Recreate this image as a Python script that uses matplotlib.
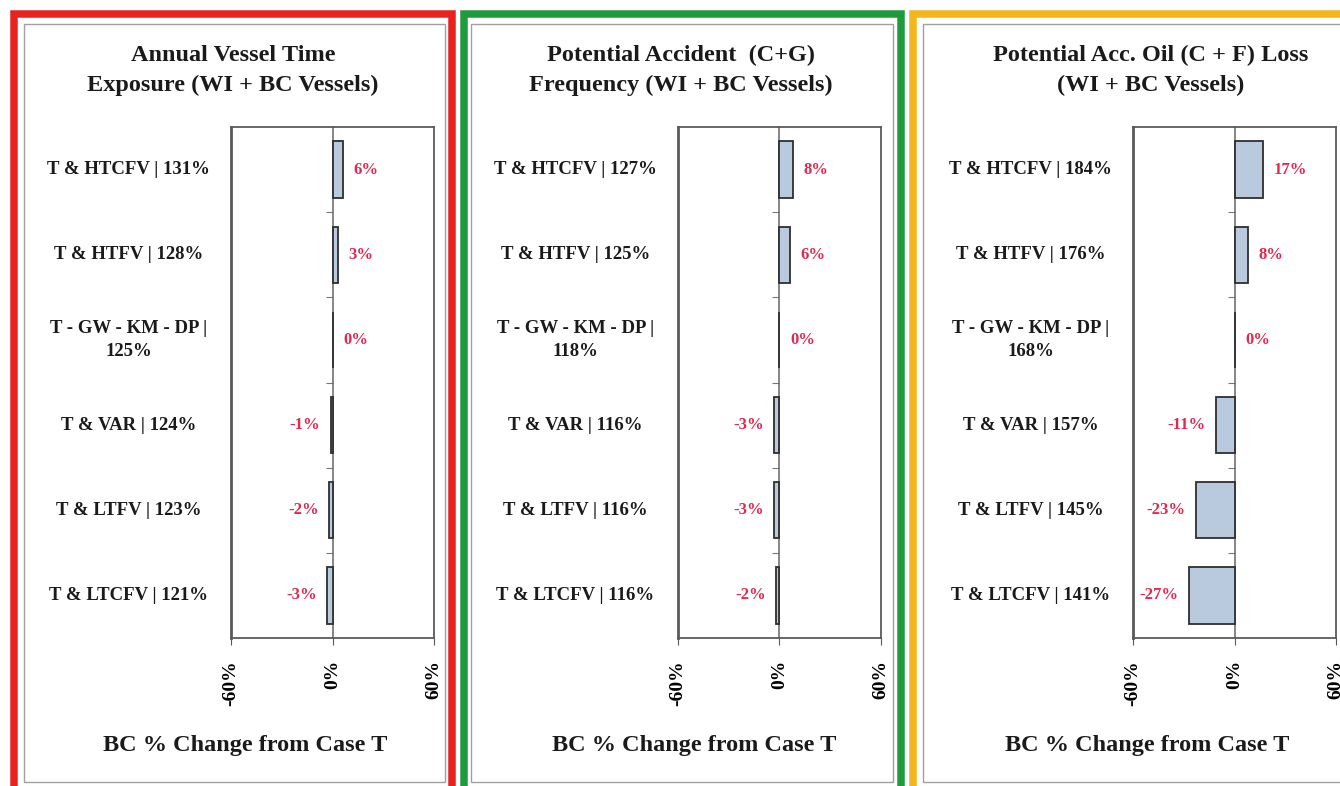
import numpy as np
import matplotlib.pyplot as plt
from matplotlib.patches import Rectangle
from matplotlib.transforms import blended_transform_factory

W, H = 1340, 786

# ---- data ----
panel_titles = ['Annual Vessel Time\nExposure (WI + BC Vessels)',
                'Potential Accident  (C+G)\nFrequency (WI + BC Vessels)',
                'Potential Acc. Oil (C + F) Loss\n(WI + BC Vessels)']
cases = ['T & HTCFV', 'T & HTFV', 'T - GW - KM - DP', 'T & VAR', 'T & LTFV', 'T & LTCFV']

exposure_pct = [131, 128, 125, 124, 123, 121]
exposure_chg = [6, 3, 0, -1, -2, -3]
freq_pct = [127, 125, 118, 116, 116, 116]
freq_chg = [8, 6, 0, -3, -3, -2]
oil_pct = [184, 176, 168, 157, 145, 141]
oil_chg = [17, 8, 0, -11, -23, -27]

xticks = [-60, 0, 60]
xlabel = 'BC % Change from Case T'

# ---- layout (pixels) ----
frame_colors = ['#e8231f', '#1f9a3d', '#f5b51d']
frame_left = [13.5, 463.5, 912.5]
frame_right = [451.5, 900.5, 1360]
inner_left = [24, 471, 923]
inner_right = [445, 893, 1360]
axes_left = [231, 678, 1133]
axes_width = 203
axes_top, axes_bottom = 127, 638
title_x = [233, 681, 1151]
xlabel_x = [245, 694, 1147]

plt.rcParams['font.family'] = ['Liberation Serif', 'DejaVu Serif']
plt.rcParams['font.weight'] = 'bold'

fig = plt.figure(figsize=(W / 100, H / 100), dpi=100)


def fx(px):
    return px / W


def fy(py):
    return 1 - py / H


def frame(x0, x1, color):
    rect = Rectangle((fx(x0), fy(830)), fx(x1 - x0), (830 - 14) / H,
                     transform=fig.transFigure, fill=False, ec=color, lw=5.4)
    fig.patches.append(rect)


def draw_panel(i, pct, chg):
    frame(frame_left[i], frame_right[i], frame_colors[i])
    inner = Rectangle((fx(inner_left[i]), fy(782)), fx(inner_right[i] - inner_left[i]), (782 - 24) / H,
                      transform=fig.transFigure, fill=False, ec='#a0a0a0', lw=1.0)
    fig.patches.append(inner)

    ax = fig.add_axes([fx(axes_left[i]), fy(axes_bottom), fx(axes_width), (axes_bottom - axes_top) / H])
    y = np.arange(len(cases))
    ax.barh(y, chg, height=0.66, color='#b9c9de', edgecolor='#2e2e2e', lw=1.3, zorder=3)
    ax.set_xlim(xticks[0], xticks[-1])
    ax.set_ylim(len(cases) - 0.5, -0.5)

    for side in ['top', 'right', 'bottom']:
        ax.spines[side].set_color('#5a5a5a')
        ax.spines[side].set_linewidth(1.3)
    ax.spines['left'].set_position(('data', 0))
    ax.spines['left'].set_color('#666666')
    ax.spines['left'].set_linewidth(1.1)
    ax.axvline(xticks[0], color='#5a5a5a', lw=2.0, clip_on=False)

    ax.set_yticks(y[:-1] + 0.5)
    ax.set_yticklabels([])
    ax.tick_params(axis='y', direction='out', length=5, color='#777777')
    ax.set_xticks(xticks)
    ax.set_xticklabels([f'{t}%' for t in xticks], rotation=90, fontsize=14, fontweight='bold')
    ax.tick_params(axis='x', direction='out', length=5, pad=11, color='#5a5a5a')

    tr = blended_transform_factory(ax.transAxes, ax.transData)
    for k, (name, p, c) in enumerate(zip(cases, pct, chg)):
        sep = ' |\n' if len(name) > 12 else ' | '
        ax.text(-0.505, k, f'{name}{sep}{p}%', transform=tr, ha='center', va='center',
                fontsize=13.5, fontweight='bold', color='#1a1a1a', linespacing=1.5)
        ax.annotate(f'{c}%', (c, k), xytext=(7.5 if c >= 0 else -7.5, 0), textcoords='offset points',
                    ha='left' if c >= 0 else 'right', va='center', fontsize=12,
                    fontweight='bold', color='#e3274f')

    fig.text(fx(title_x[i]), fy(70.5), panel_titles[i], ha='center', va='center',
             fontsize=17.5, fontweight='bold', color='#1a1a1a', linespacing=1.58)
    fig.text(fx(xlabel_x[i]), fy(745), xlabel, ha='center', va='center',
             fontsize=17.5, fontweight='bold', color='#1a1a1a')


draw_panel(0, exposure_pct, exposure_chg)
draw_panel(1, freq_pct, freq_chg)
draw_panel(2, oil_pct, oil_chg)

fig.savefig('out.png', dpi=100)
